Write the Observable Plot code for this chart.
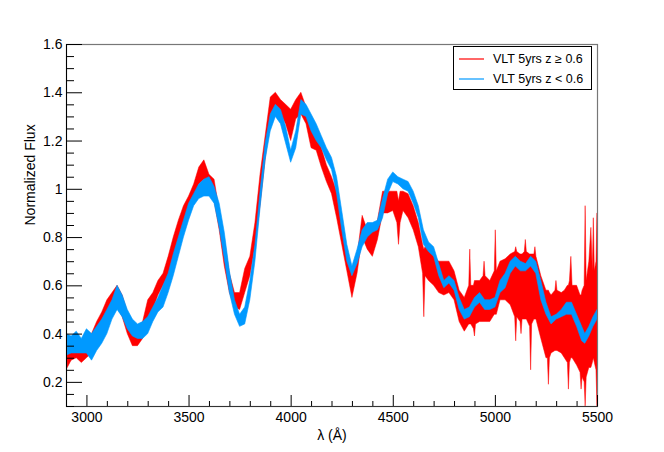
<!DOCTYPE html>
<html>
<head>
<meta charset="utf-8">
<script src="https://cdn.jsdelivr.net/npm/d3@7"></script>
<script src="https://cdn.jsdelivr.net/npm/@observablehq/plot@0.6"></script>
<style>
  html, body { margin: 0; padding: 0; background: #fff; }
  #wrap { position: relative; width: 664px; height: 452px; font-family: "Liberation Sans", Arial, Helvetica, sans-serif; }
  #legend { position: absolute; left: 453px; top: 46px; width: 137px; height: 42px; border: 1px solid #000; background: #fff; font-size: 12.5px; color: #000; }
  #legend .row { position: absolute; left: 0; height: 20px; display: flex; align-items: center; white-space: nowrap; }
  #legend svg { margin-left: 5px; margin-right: 9px; }
</style>
</head>
<body>
<div id="wrap">
  <div id="chart"></div>
  <div id="legend"></div>
</div>
<script>
// ---- data ----
const seriesNames = ["VLT 5yrs z \u2265 0.6", "VLT 5yrs z < 0.6"];
const seriesColors = ["#ff0000", "#0099ff"];

const redLam = [2900,2925,2950,2975,3000,3025,3050,3075,3100,3125,3150,3175,3200,3225,3250,3275,3300,3325,3350,3375,3400,3425,3450,3475,3500,3525,3550,3575,3600,3625,3650,3675,3700,3725,3750,3775,3800,3825,3850,3875,3900,3925,3950,3975,4000,4025,4050,4075,4100,4125,4150,4175,4200,4225,4250,4275,4300,4325,4350,4375,4400,4425,4450,4475,4500,4520,4528,4536,4550,4575,
  4600,4625,4646,4652,4658,4675,4700,4725,4750,4775,4800,4825,4850,4872,4877,4882,4895,4900,4905,4925,4942,4947,4952,4975,4997,5002,5007,5025,5050,5075,5097,5102,5107,5123,5128,5133,5144,5149,5154,5170,5175,5180,5191,5196,5201,5225,5250,5257,5262,5267,5275,5294,5299,5304,5325,5340,5355,5360,5365,5372,5378,5400,5417,5422,5427,5437,5442,5447,5460,5470,5477,5482,5487,5495,5500];
const redLo  = [0.25,0.29,0.30,0.28,0.30,0.32,0.38,0.42,0.46,0.50,0.51,0.47,0.40,0.35,0.35,0.38,0.46,0.50,0.56,0.60,0.64,0.72,0.79,0.85,0.90,0.96,1.02,1.04,0.99,0.95,0.83,0.68,0.57,0.51,0.50,0.57,0.64,0.76,0.93,1.12,1.30,1.34,1.31,1.27,1.20,1.29,1.31,1.27,1.17,1.16,1.09,1.03,0.98,0.88,0.77,0.66,0.55,0.65,0.80,0.75,0.72,0.79,0.90,0.90,0.91,0.86,0.77,0.86,0.91,0.88,
  0.83,0.76,0.65,0.47,0.64,0.62,0.60,0.57,0.56,0.57,0.54,0.45,0.41,0.44,0.44,0.44,0.42,0.39,0.44,0.45,0.45,0.45,0.45,0.45,0.48,0.48,0.48,0.54,0.54,0.52,0.47,0.37,0.47,0.45,0.40,0.46,0.46,0.46,0.46,0.43,0.25,0.44,0.46,0.46,0.46,0.38,0.30,0.30,0.19,0.30,0.32,0.33,0.33,0.33,0.32,0.30,0.28,0.17,0.28,0.30,0.30,0.27,0.24,0.17,0.22,0.20,0.10,0.22,0.26,0.26,0.28,0.30,0.28,0.25,0.10];
const redHi  = [0.33,0.38,0.38,0.35,0.36,0.40,0.45,0.49,0.54,0.57,0.60,0.56,0.49,0.43,0.42,0.45,0.54,0.57,0.62,0.65,0.72,0.80,0.87,0.93,0.97,1.02,1.09,1.12,1.06,1.04,0.91,0.79,0.65,0.57,0.57,0.67,0.72,0.86,1.06,1.22,1.38,1.40,1.37,1.35,1.33,1.37,1.40,1.34,1.29,1.23,1.17,1.10,1.05,0.99,0.86,0.73,0.64,0.72,0.89,0.83,0.83,0.87,0.99,0.99,0.99,0.99,0.95,0.99,0.99,0.98,
  0.93,0.86,0.77,0.75,0.76,0.75,0.72,0.70,0.70,0.70,0.66,0.58,0.55,0.60,0.75,0.60,0.60,0.62,0.62,0.62,0.64,0.70,0.64,0.62,0.66,0.83,0.66,0.70,0.71,0.73,0.74,0.76,0.74,0.73,0.73,0.73,0.74,0.79,0.74,0.73,0.73,0.73,0.73,0.76,0.72,0.64,0.58,0.58,0.58,0.57,0.56,0.58,0.62,0.58,0.57,0.58,0.60,0.60,0.62,0.72,0.60,0.60,0.56,0.56,0.58,0.60,0.93,0.62,0.70,0.84,0.66,0.88,0.66,0.70,0.90];

const blueLam = [2900,2925,2950,2975,3000,3025,3050,3075,3100,3125,3150,3175,3200,3225,3250,3275,3300,3325,3350,3375,3400,3425,3450,3475,3500,3525,3550,3575,3600,3625,3650,3675,3700,3725,3750,3775,3800,3825,3850,3875,3900,3925,3950,3975,4000,4025,4050,4075,4100,4125,4150,4175,4200,4225,4250,4275,4300,4325,4350,4375,4400,4425,4450,4475,4500,4525,4550,4575,4600,4625,4650,4675,4700,4725,4750,4775,4800,4825,4850,4875,4900,4925,4950,4975,5000,5025,5050,5075,5100,5125,5150,5175,5200,5225,5250,5275,5300,5325,5350,5375,5400,5425,5440,5460,5480,5500];
const blueLo  = [0.31,0.32,0.32,0.32,0.32,0.29,0.33,0.36,0.40,0.46,0.50,0.47,0.42,0.39,0.38,0.38,0.40,0.45,0.49,0.51,0.57,0.64,0.72,0.80,0.87,0.93,0.96,0.97,0.97,0.94,0.84,0.71,0.57,0.48,0.43,0.44,0.54,0.70,0.92,1.12,1.24,1.30,1.27,1.19,1.11,1.17,1.31,1.30,1.24,1.20,1.17,1.12,1.08,0.98,0.83,0.70,0.64,0.69,0.76,0.80,0.82,0.83,0.88,0.98,1.03,1.02,1.00,0.99,0.94,0.88,0.77,0.74,0.72,0.64,0.59,0.61,0.58,0.50,0.46,0.47,0.51,0.53,0.50,0.50,0.51,0.57,0.59,0.65,0.68,0.66,0.66,0.68,0.65,0.54,0.48,0.44,0.46,0.47,0.48,0.48,0.43,0.37,0.36,0.39,0.43,0.46];
const blueHi  = [0.40,0.39,0.41,0.38,0.42,0.40,0.43,0.46,0.50,0.54,0.60,0.56,0.50,0.46,0.44,0.45,0.47,0.51,0.55,0.60,0.65,0.73,0.80,0.87,0.94,0.98,1.02,1.04,1.05,1.01,0.94,0.82,0.66,0.54,0.48,0.51,0.62,0.77,0.99,1.19,1.31,1.35,1.33,1.26,1.16,1.24,1.37,1.35,1.31,1.27,1.22,1.17,1.13,1.05,0.91,0.77,0.68,0.75,0.83,0.86,0.86,0.87,0.96,1.04,1.07,1.05,1.04,1.03,0.99,0.93,0.83,0.78,0.76,0.69,0.62,0.64,0.62,0.55,0.50,0.51,0.55,0.57,0.54,0.54,0.55,0.62,0.65,0.70,0.72,0.70,0.69,0.72,0.70,0.62,0.53,0.47,0.48,0.50,0.53,0.53,0.48,0.43,0.40,0.43,0.47,0.50];

const xDomain = [2900, 5500];
const yDomain = [0.1, 1.6];
const xMajor = [3000, 3500, 4000, 4500, 5000, 5500];
const xLabels = ["3000", "3500", "4000", "4500", "5000", "5500"];
const yMajor = [0.2, 0.4, 0.6, 0.8, 1.0, 1.2, 1.4, 1.6];
const yLabels = ["0.2", "0.4", "0.6", "0.8", "1", "1.2", "1.4", "1.6"];
const xTitle = "\u03bb (\u00c5)";
const yTitle = "Normalized Flux";

// ---- build tables ----
const red = redLam.map((l, i) => ({lam: l, lo: redLo[i], hi: redHi[i]}));
const blue = blueLam.map((l, i) => ({lam: l, lo: blueLo[i], hi: blueHi[i]}));
const xMinor = d3.range(2900, 5501, 100).filter(v => !xMajor.includes(v));
const yMinor = d3.range(0.1, 1.6001, 0.05).map(v => +v.toFixed(2)).filter(v => !yMajor.some(m => Math.abs(m - v) < 1e-6));

const W = 664, H = 452, mL = 66, mR = 67, mT = 44, mB = 46;
const innerW = W - mL - mR, innerH = H - mT - mB;
const font = "'Liberation Sans', Arial, Helvetica, sans-serif";

const chart = Plot.plot({
  width: W, height: H,
  marginLeft: mL, marginRight: mR, marginTop: mT, marginBottom: mB,
  x: {domain: xDomain},
  y: {domain: yDomain},
  style: {fontFamily: font, fontSize: "14px", background: "#fff", color: "#000"},
  marks: [
    Plot.areaY(red, {x: "lam", y1: "lo", y2: "hi", fill: seriesColors[0], stroke: seriesColors[0], strokeWidth: 0.5, clip: true}),
    Plot.areaY(blue, {x: "lam", y1: "lo", y2: "hi", fill: seriesColors[1], stroke: seriesColors[1], strokeWidth: 0.6, clip: true}),
    Plot.frame({stroke: "#777", strokeWidth: 1.2}),
    Plot.frame({anchor: "left", stroke: "#000"}),
    Plot.frame({anchor: "bottom", stroke: "#333"}),
    Plot.tickX(xMajor, {x: d => d, stroke: "#000", insetTop: innerH - 11}),
    Plot.tickX(xMinor, {x: d => d, stroke: "#000", insetTop: innerH - 5}),
    Plot.tickY(yMajor, {y: d => d, stroke: "#000", insetRight: innerW - 16}),
    Plot.tickY(yMinor, {y: d => d, stroke: "#000", insetRight: innerW - 8}),
    Plot.axisX(xMajor, {tickSize: 0, tickPadding: 6, tickFormat: (d) => xLabels[xMajor.indexOf(d)], label: null, fontSize: 14}),
    Plot.axisY(yMajor, {tickSize: 0, tickPadding: 4, tickFormat: (d) => yLabels[yMajor.indexOf(d)], label: null, fontSize: 14}),
    Plot.text([xTitle], {frameAnchor: "bottom", dy: 33, fontSize: 14, fill: "#000"}),
    Plot.text([yTitle], {frameAnchor: "left", dx: -36, rotate: -90, fontSize: 14, fill: "#000"})
  ]
});
document.getElementById("chart").appendChild(chart);

// ---- legend ----
const legend = document.getElementById("legend");
const NS = "http://www.w3.org/2000/svg";
seriesNames.forEach((name, i) => {
  const row = document.createElement("div");
  row.className = "row";
  row.style.top = (i === 0 ? 2 : 22) + "px";
  const sw = document.createElementNS(NS, "svg");
  sw.setAttribute("width", "25");
  sw.setAttribute("height", "4");
  const ln = document.createElementNS(NS, "line");
  ln.setAttribute("x1", "0"); ln.setAttribute("x2", "25");
  ln.setAttribute("y1", "2"); ln.setAttribute("y2", "2");
  ln.setAttribute("stroke", seriesColors[i]);
  ln.setAttribute("stroke-width", "1.2");
  sw.appendChild(ln);
  const t = document.createElement("span");
  t.textContent = name;
  row.appendChild(sw);
  row.appendChild(t);
  legend.appendChild(row);
});
</script>
</body>
</html>
